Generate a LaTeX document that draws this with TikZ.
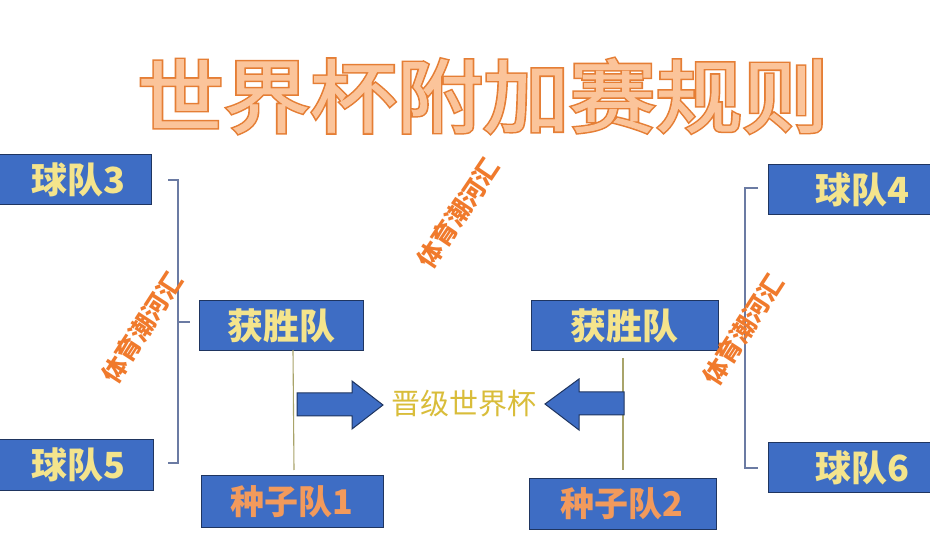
\documentclass[tikz,border=0pt]{standalone}
\usepackage{fontspec}
\newfontfamily\cjk{Noto Sans CJK SC}
\newfontfamily\cjkedge[FakeBold=5]{Noto Sans CJK SC}
\newfontfamily\cjkfill[FakeBold=1.2]{Noto Sans CJK SC}
\definecolor{boxblue}{HTML}{3E6DC4}
\definecolor{boxedge}{HTML}{1F3560}
\definecolor{teamyellow}{HTML}{F4E48C}
\definecolor{seedorange}{HTML}{F29A5C}
\definecolor{titlefill}{HTML}{FBC49A}
\definecolor{titleedge}{HTML}{E57E35}
\definecolor{wmorange}{HTML}{F07A2C}
\definecolor{brkcol}{HTML}{6B7BA3}
\definecolor{vcol}{HTML}{A9A46A}
\definecolor{goldtext}{HTML}{D9BD3A}
\tikzset{
  teambox/.style={draw=boxedge, line width=1.4pt, fill=boxblue, inner sep=0pt, anchor=north west},
  teamtext/.style={text=teamyellow, font=\cjk\bfseries\fontsize{36}{36}\selectfont},
  seedtext/.style={text=seedorange, font=\cjk\bfseries\fontsize{34}{34}\selectfont},
  titletext/.style={xscale=1.08, inner sep=0pt},
  brk/.style={draw=brkcol, line width=1.3pt},
  vline/.style={draw=vcol, line width=1.1pt},
  blockarrow/.style={fill=boxblue, draw=boxedge, line width=1pt},
  wmark/.style={text=wmorange, font=\cjk\bfseries\fontsize{25}{25}\selectfont, inner sep=0pt}
}
\begin{document}
\begin{tikzpicture}[x=1pt,y=-1pt]
\useasboundingbox (0,0) rectangle (930,545);
\fill[white] (0,0) rectangle (930,545);
% title: outline layer, then fill layer
\node[titletext, text=titleedge, font=\cjkedge\fontsize{80}{80}\selectfont] (titleedge) at (483,96) {世界杯附加赛规则};
\node[titletext, text=titlefill, font=\cjkfill\fontsize{80}{80}\selectfont] (title) at (483,96) {世界杯附加赛规则};
% boxes
\node[teambox, minimum width=153pt, minimum height=50pt] (b3) at (-2,154) {};
\node[teamtext] (t3) at (78,180) {球队3};
\node[teambox, minimum width=155pt, minimum height=51pt] (b5) at (-2,439) {};
\node[teamtext] (t5) at (78,465) {球队5};
\node[teambox, minimum width=164pt, minimum height=50pt] (w1) at (199,300) {};
\node[teamtext] (tw1) at (281,326) {获胜队};
\node[teambox, minimum width=182pt, minimum height=52pt] (s1) at (201,475) {};
\node[seedtext] (ts1) at (292,502) {种子队1};
\node[teambox, minimum width=187pt, minimum height=50pt] (w2) at (531,300) {};
\node[teamtext] (tw2) at (624,326) {获胜队};
\node[teambox, minimum width=187pt, minimum height=51pt] (s2) at (529,478) {};
\node[seedtext] (ts2) at (622,504) {种子队2};
\node[teambox, minimum width=165pt, minimum height=50pt] (b4) at (768,164) {};
\node[teamtext] (t4) at (862,190) {球队4};
\node[teambox, minimum width=165pt, minimum height=50pt] (b6) at (768,442) {};
\node[teamtext] (t6) at (862,468) {球队6};
% brackets
\draw[brk] (168,180) -- (178,180) -- (178,463) -- (168,463);
\draw[brk] (178,322) -- (190,322);
\draw[brk] (758,188) -- (745,188) -- (745,468) -- (758,468);
% vertical lines
\coordinate (v1a) at (293,350);
\coordinate (v1b) at (294,470);
\draw[vline] (v1a) -- (v1b);
\coordinate (v2a) at (623,358);
\coordinate (v2b) at (623,470);
\draw[vline] (v2a) -- (v2b);
% centre text
\node[text=goldtext, font=\cjk\fontsize{29}{29}\selectfont] (adv) at (464,404) {晋级世界杯};
% block arrows
\draw[blockarrow] (297,393) -- (352,393) -- (352,381) -- (383,405) -- (352,429) -- (352,416) -- (297,416) -- cycle;
\draw[blockarrow] (624,392) -- (579,392) -- (579,379) -- (545,404) -- (579,430) -- (579,415) -- (624,415) -- cycle;
% watermarks
\node[wmark, rotate=57] (wm1) at (142,328) {体育潮河汇};
\node[wmark, rotate=56] (wm2) at (458,213) {体育潮河汇};
\node[wmark, rotate=57] (wm3) at (743,330) {体育潮河汇};
\end{tikzpicture}
\end{document}
